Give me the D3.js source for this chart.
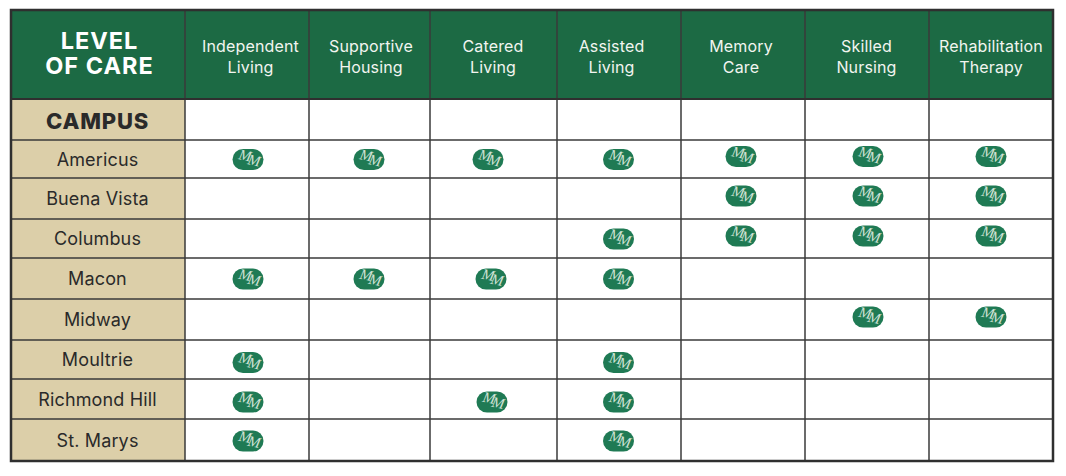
<!DOCTYPE html>
<html>
<head>
<meta charset="utf-8">
<script src="https://cdn.jsdelivr.net/npm/d3@7/dist/d3.min.js"></script>
<style>
html,body{margin:0;padding:0;background:#fff;}
svg{display:block;}
text{font-family:Inter,"Open Sans",sans-serif;}
</style>
</head>
<body>
<script>
const cornerTitle = ["LEVEL", "OF CARE"];
const rowTitle = "CAMPUS";
const levels = ["Independent Living","Supportive Housing","Catered Living","Assisted Living","Memory Care","Skilled Nursing","Rehabilitation Therapy"];
const campuses = ["Americus","Buena Vista","Columbus","Macon","Midway","Moultrie","Richmond Hill","St. Marys"];
const offered = [
  ["Independent Living","Supportive Housing","Catered Living","Assisted Living","Memory Care","Skilled Nursing","Rehabilitation Therapy"],
  ["Memory Care","Skilled Nursing","Rehabilitation Therapy"],
  ["Assisted Living","Memory Care","Skilled Nursing","Rehabilitation Therapy"],
  ["Independent Living","Supportive Housing","Catered Living","Assisted Living"],
  ["Skilled Nursing","Rehabilitation Therapy"],
  ["Independent Living","Assisted Living"],
  ["Independent Living","Catered Living","Assisted Living"],
  ["Independent Living","Assisted Living"]
];
const monogram = ["M","M"];

// layout
const W = 1066, H = 476;
const colEdges = [185,309,430,557,681,805,929,1053];
const rowEdges = [140,178,219,258,299,340,379,419,461];
const left = 11, top_ = 10, headBottom = 99;
const headX = [250.5,371,493,611.5,741,866.5,991];
const badgeX = [248,369,491,618.5,741,868,991];
const badgeY = [159.5,199,239,279,320,362.5,402,441];
const badgeLift = [0,0,0,0,3,3,3];

const xHead = d3.scaleOrdinal(levels, headX);
const xBadge = d3.scaleOrdinal(levels, badgeX);
const yTop = d3.scaleOrdinal(campuses, rowEdges.slice(0,-1));
const yBottom = d3.scaleOrdinal(campuses, rowEdges.slice(1));
const yBadge = d3.scaleOrdinal(campuses, badgeY);
const lift = d3.scaleOrdinal(levels, badgeLift);
const nudge = d => (d.campus==="Americus" && d.level==="Catered Living") ? -3 : (d.campus==="Richmond Hill" && d.level==="Catered Living") ? 1 : 0;

const GREEN = "#1c6a44", TAN = "#dccfa9", LINE = "#3a3a3a", INK = "#2a2a2a", BADGE = "#1f7a54";

const svg = d3.select("body").append("svg").attr("width",W).attr("height",H);

// fills
svg.append("rect").attr("x",left).attr("y",top_).attr("width",1053-left).attr("height",headBottom-top_).attr("fill",GREEN);
svg.append("rect").attr("x",left).attr("y",headBottom).attr("width",185-left).attr("height",461-headBottom).attr("fill",TAN);

// grid
const grid = svg.append("g").attr("stroke",LINE).attr("stroke-width",1.5);
grid.selectAll("line.v").data(colEdges.slice(0,-1)).join("line").attr("class","v")
  .attr("x1",d=>d).attr("x2",d=>d).attr("y1",top_).attr("y2",461);
grid.selectAll("line.h").data([headBottom].concat(rowEdges.slice(0,-1))).join("line").attr("class","h")
  .attr("x1",left).attr("x2",1053).attr("y1",d=>d).attr("y2",d=>d);
svg.append("rect").attr("x",left).attr("y",top_).attr("width",1053-left).attr("height",461-top_)
  .attr("fill","none").attr("stroke","#2f2f2f").attr("stroke-width",2.5);
svg.append("line").attr("x1",left).attr("x2",1053).attr("y1",headBottom).attr("y2",headBottom).attr("stroke","#2f2f2f").attr("stroke-width",2);

// corner
svg.selectAll("text.corner").data(cornerTitle).join("text").attr("class","corner")
  .attr("x",99.5).attr("y",(d,i)=>49+i*25).attr("text-anchor","middle")
  .attr("fill","#fff").attr("font-size",23.5).attr("font-weight",700).attr("letter-spacing",1)
  .text(d=>d);

svg.append("text").attr("x",97.5).attr("y",129).attr("text-anchor","middle")
  .attr("fill",INK).attr("font-size",22).attr("font-weight",800).attr("letter-spacing",0.8).text(rowTitle);

// column headers
const heads = svg.selectAll("g.head").data(levels).join("g").attr("class","head");
heads.each(function(d){
  const parts = d.split(" ");
  d3.select(this).selectAll("text").data(parts).join("text")
    .attr("x",xHead(d)).attr("y",(p,i)=>52+i*20.5).attr("text-anchor","middle")
    .attr("fill","#f2f5f0").attr("font-size",16).attr("font-weight",400).attr("letter-spacing",0.15).text(p=>p);
});

// campuses
svg.selectAll("text.campus").data(campuses).join("text").attr("class","campus")
  .attr("x",97.5).attr("y",d=>(yTop(d)+yBottom(d))/2+6.5)
  .attr("text-anchor","middle").attr("fill",INK).attr("font-size",18).attr("font-weight",400).attr("letter-spacing",0.15).text(d=>d);

// badges
const marks = offered.flatMap((list,i)=>list.map(l=>({campus:campuses[i],level:l})));
const badge = svg.selectAll("g.badge").data(marks).join("g").attr("class","badge")
  .attr("transform",d=>`translate(${xBadge(d.level)+nudge(d)},${yBadge(d.campus)-lift(d.level)})`);
badge.append("rect").attr("x",-15.5).attr("y",-10.5).attr("width",31).attr("height",21).attr("rx",10.5)
  .attr("fill",BADGE);
const glyph = badge.append("text").attr("text-anchor","middle").attr("y",3).attr("transform","rotate(12)")
  .attr("fill","#cfe2d5").attr("font-size",15).attr("font-style","italic")
  .style("font-family","'Liberation Serif',serif").attr("letter-spacing",-2.5);
glyph.selectAll("tspan").data(monogram).join("tspan").attr("dy",(d,i)=>i?3:-1.5).text(d=>d);
</script>
</body>
</html>
